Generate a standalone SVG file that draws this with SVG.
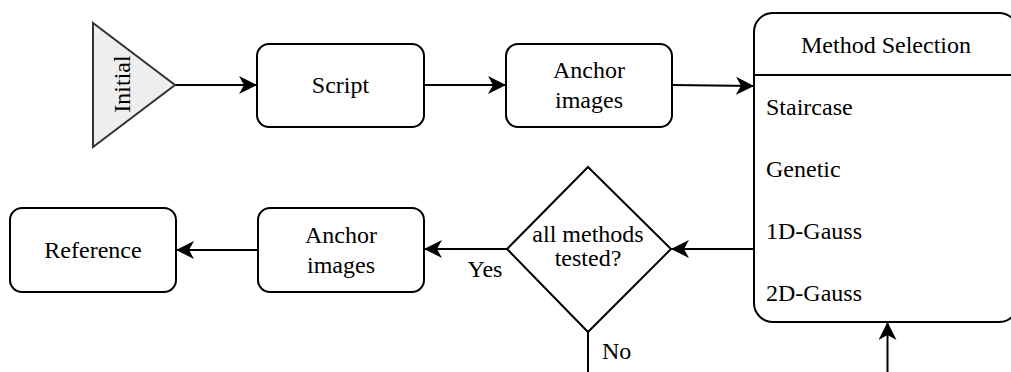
<svg xmlns="http://www.w3.org/2000/svg" width="1011" height="372" viewBox="0 0 1011 372">
<defs>
<style>
.box{fill:#ffffff;stroke:#000000;stroke-width:2}
.t{font-family:"Liberation Serif","Times New Roman",serif;font-size:24px;fill:#000000}
.c{text-anchor:middle}
.edge{fill:none;stroke:#000000;stroke-width:2}
</style>
<marker id="arr" markerUnits="userSpaceOnUse" markerWidth="20" markerHeight="20" refX="18" refY="9" orient="auto" viewBox="0 0 20 20">
<path d="M0,0 L18,9 L0,18 L5,9 Z" fill="#000000"/>
</marker>
</defs>
<rect width="1011" height="372" fill="#ffffff"/>
<g id="connectors">
<path class="edge" d="M175,85 L257,85" marker-end="url(#arr)"/>
<path class="edge" d="M424,85 L506,85" marker-end="url(#arr)"/>
<path class="edge" d="M672,85 L754,86" marker-end="url(#arr)"/>
<path class="edge" d="M754,249 L671,249" marker-end="url(#arr)"/>
<path class="edge" d="M507,249 L424,249" marker-end="url(#arr)"/>
<path class="edge" d="M258,250 L176,250" marker-end="url(#arr)"/>
<path class="edge" d="M887.5,372 L887.5,322" marker-end="url(#arr)"/>
<path class="edge" d="M588,332 L588,372"/>
<text class="t c" x="485" y="277">Yes</text>
<text class="t" x="602" y="359">No</text>
</g>
<g id="initial">
<polygon points="93,23 93,147 175,85" fill="#eeeeee" stroke="#333333" stroke-width="2"/>
<text class="t c" transform="translate(130,84) rotate(-90)">Initial</text>
</g>
<g id="script">
<rect class="box" x="257" y="44" width="167" height="83" rx="12"/>
<text class="t c" x="340.5" y="93">Script</text>
</g>
<g id="anchor-top">
<rect class="box" x="506" y="44" width="166" height="83" rx="12"/>
<text class="t c" x="589" y="78">Anchor</text>
<text class="t c" x="589" y="108">images</text>
</g>
<g id="method-selection">
<rect class="box" x="754" y="13" width="264" height="309" rx="19"/>
<line x1="754" y1="75" x2="1018" y2="75" stroke="#000000" stroke-width="2"/>
<text class="t c" x="886" y="53">Method Selection</text>
<text class="t" x="766" y="115">Staircase</text>
<text class="t" x="766" y="177">Genetic</text>
<text class="t" x="766" y="239">1D-Gauss</text>
<text class="t" x="766" y="301">2D-Gauss</text>
</g>
<g id="decision">
<polygon points="588,167 671,249 588,332 507,249" fill="#ffffff" stroke="#000000" stroke-width="2"/>
<text class="t c" x="588" y="242">all methods</text>
<text class="t c" x="588" y="266">tested?</text>
</g>
<g id="anchor-bottom">
<rect class="box" x="258" y="208" width="166" height="84" rx="12"/>
<text class="t c" x="341" y="243">Anchor</text>
<text class="t c" x="341" y="273">images</text>
</g>
<g id="reference">
<rect class="box" x="10" y="208" width="166" height="84" rx="12"/>
<text class="t c" x="93" y="258">Reference</text>
</g>
</svg>
